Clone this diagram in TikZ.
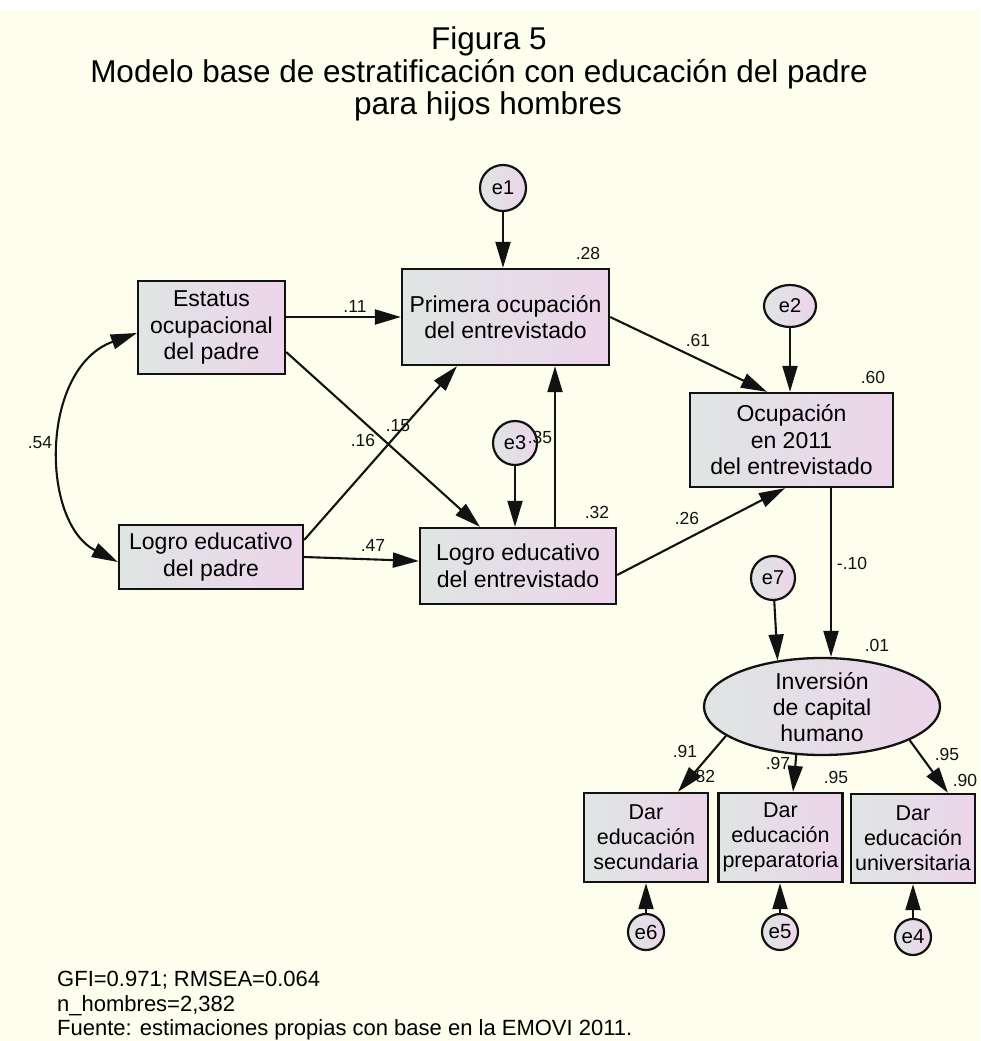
\documentclass[tikz,border=0pt]{standalone}
\usepackage{fontspec}
\setmainfont{Liberation Sans}
\usetikzlibrary{arrows.meta,calc,shapes.geometric}

\definecolor{bg}{RGB}{254,254,238}
\definecolor{gradL}{RGB}{223,229,227}
\definecolor{gradR}{RGB}{236,213,234}
\definecolor{ink}{RGB}{18,18,18}

\begin{document}
\begin{tikzpicture}[
  x=1pt, y=-1pt,
  box/.style={draw=ink, line width=2.3pt, left color=gradL, right color=gradR,
    align=center, inner sep=0pt, font=\fontsize{23}{26.5}\selectfont},
  indic/.style={box, minimum width=124pt, minimum height=89pt,
    font=\fontsize{21.5}{25}\selectfont},
  latent/.style={ellipse, draw=ink, line width=2.3pt, left color=gradL, right color=gradR,
    inner sep=0pt},
  err/.style={ellipse, draw=ink, line width=2.2pt, left color=gradL, right color=gradR,
    inner sep=0pt, font=\fontsize{20}{21}\selectfont},
  errsmall/.style={err, minimum width=36pt, minimum height=36pt,
    font=\fontsize{20.5}{21}\selectfont},
  arr/.style={draw=ink, line width=2.1pt, -{Triangle[length=26pt,width=15pt]}},
  covarr/.style={draw=ink, line width=2.1pt,
    {Triangle[length=26pt,width=15pt]}-{Triangle[length=26pt,width=15pt]}},
  coef/.style={inner sep=0pt, text=ink, font=\fontsize{17.5}{19}\selectfont},
  titletext/.style={anchor=base, inner sep=0pt, text=black, font=\fontsize{31.5}{34}\selectfont},
  foot/.style={anchor=base west, inner sep=0pt, text=black, font=\fontsize{22}{24}\selectfont}
]
\useasboundingbox (0,0) rectangle (980,1041);
\fill[white] (0,0) rectangle (980,1041);
\fill[bg] (0,10) rectangle (980,1041);

% heading
\node[titletext] (t1) at (489,49.5) {Figura 5};
\node[titletext] (t2) at (479,82) {Modelo base de estratificación con educación del padre};
\node[titletext] (t3) at (488,114) {para hijos hombres};

% observed variables
\node[box, minimum width=147pt, minimum height=93pt] (estatus) at (211.5,327.5) {Estatus\\ocupacional\\del padre};
\node[box, minimum width=207pt, minimum height=96pt] (primera) at (505.5,317) {Primera ocupación\\del entrevistado};
\node[box, minimum width=184pt, minimum height=64pt] (lpadre) at (211,557) {Logro educativo\\del padre};
\node[box, minimum width=196pt, minimum height=76pt] (lent) at (518,566) {Logro educativo\\del entrevistado};
\node[box, minimum width=203pt, minimum height=94pt] (ocup) at (791.5,440) {Ocupación\\en 2011\\del entrevistado};

% latent variable and its indicators
\node[latent, minimum width=236pt, minimum height=97pt] (inv) at (822,706.5) {};
\node[align=center, inner sep=0pt, font=\fontsize{23}{26}\selectfont] (invtxt) at (822,707) {Inversión\\de capital\\humano};
\node[indic] (sec) at (646,837.5) {Dar\\educación\\secundaria};
\node[indic] (prep) at (780.5,837.5) {Dar\\educación\\preparatoria};
\node[indic] (univ) at (913,838.5) {Dar\\educación\\universitaria};

% error terms
\node[err, minimum width=46pt, minimum height=46pt] (e1) at (503,188) {e1};
\node[err, minimum width=52pt, minimum height=42pt] (e2) at (790,306) {e2};
\node[err, minimum width=44pt, minimum height=44pt] (e3) at (515,443) {e3};
\node[err, minimum width=44pt, minimum height=44pt] (e7) at (773,578) {e7};
\node[errsmall] (e6) at (646,932) {e6};
\node[errsmall] (e5) at (780,932) {e5};
\node[errsmall] (e4) at (913,937) {e4};

% coefficients
\node[coef] (c28) at (588,253) {.28};
\node[coef] (c11) at (355,306) {.11};
\node[coef] (c61) at (698,340) {.61};
\node[coef] (c60) at (873,377) {.60};
\node[coef] (c15) at (398,426) {.15};
\node[coef] (c16) at (363,440) {.16};
\node[coef] (c35) at (540,437) {.35};
\node[coef] (c32) at (597,512) {.32};
\node[coef] (c47) at (373,545) {.47};
\node[coef] (c26) at (687,518) {.26};
\node[coef] (c54) at (40,443) {.54};
\node[coef] (c10) at (852,563) {-.10};
\node[coef] (c01) at (877,645) {.01};
\node[coef] (c91) at (685,751) {.91};
\node[coef] (c82) at (703,776) {.82};
\node[coef] (c97) at (778,763) {.97};
\node[coef] (c95a) at (836,777) {.95};
\node[coef] (c95b) at (947,754) {.95};
\node[coef] (c90) at (965,780) {.90};

% paths
\draw[arr] (e1) -- (e1 |- primera.north);
\draw[arr] (estatus.east |- primera.west) -- (primera.west);
\draw[arr] ($(estatus.east)+(0,24.5)$) -- ($(lent.north)+(-38,0)$);
\draw[arr] ($(lpadre.east)+(0,-17)$) -- ($(primera.south)+(-48.5,0)$);
\draw[arr] (lpadre.east) -- ($(lent.west)+(0,-5)$);
\draw[arr] (e3) -- (e3 |- lent.north);
\coordinate (up) at ($(lent.north)+(37,0)$);
\draw[arr] (up) -- (up |- primera.south);
\draw[arr] (primera.east) -- ($(ocup.north)+(-24.5,0)$);
\draw[arr] (e2) -- (e2 |- ocup.north);
\draw[arr] ($(lent.east)+(0,9)$) -- ($(ocup.south)+(-6.5,0)$);
\coordinate (down) at ($(ocup.south)+(39.5,0)$);
\draw[arr] (down) -- (down |- inv.north);
\draw[arr] (e7) -- (inv.134);
\draw[arr] (inv.197) -- ($(sec.north)+(32,0)$);
\draw[arr] (inv.242) -- ($(prep.north)+(12.5,0)$);
\draw[arr] (inv.339) -- ($(univ.north)+(35,0)$);
\draw[arr] (e6) -- (e6 |- sec.south);
\draw[arr] (e5) -- (e5 |- prep.south);
\draw[arr] (e4) -- (e4 |- univ.south);

% covariance between the father's variables
\draw[covarr] ($(estatus.west)+(0,5.5)$) .. controls (40,368) and (40,522) .. ($(lpadre.west)+(0,5)$);

% fit statistics and source
\node[foot] (f1) at (57,986) {GFI=0.971; RMSEA=0.064};
\node[foot] (f2) at (57,1011) {n\_hombres=2,382};
\node[foot] (f3) at (57,1035) {Fuente: estimaciones propias con base en la EMOVI 2011.};
\end{tikzpicture}
\end{document}
